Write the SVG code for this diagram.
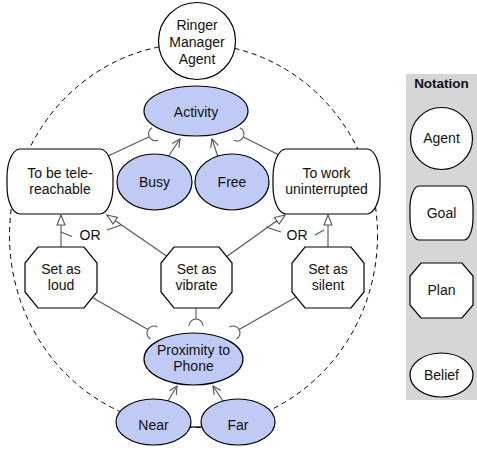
<svg xmlns="http://www.w3.org/2000/svg" width="477" height="456" viewBox="0 0 477 456">
<defs>
<style>
text{font-family:"Liberation Sans",Arial,sans-serif;font-size:14px;fill:#111;text-anchor:middle}
.n{stroke:#000;stroke-width:1.2;fill:#fff}
.b{stroke:#000;stroke-width:1.2;fill:#c0cbf5}
.c{stroke:#555;stroke-width:1.1;fill:none}
.bold{font-weight:bold;font-size:13.5px}
</style>
<marker id="v" markerUnits="userSpaceOnUse" markerWidth="12" markerHeight="12" refX="9" refY="5" orient="auto"><path d="M1,1 L9,5 L1,9" fill="none" stroke="#555" stroke-width="1.1"/></marker>
<marker id="t" markerUnits="userSpaceOnUse" markerWidth="14" markerHeight="12" refX="11" refY="5" orient="auto"><path d="M1,1 L11,5 L1,9 Z" fill="#fff" stroke="#555" stroke-width="1.1"/></marker>
</defs>
<rect x="406" y="74" width="71" height="326" fill="#d6d6d6"/>
<ellipse cx="193.5" cy="235.5" rx="184" ry="192" fill="none" stroke="#000" stroke-width="1" stroke-dasharray="5,4"/>
<g id="connectors">
<path class="c" d="M108,156 L148.7,137"/>
<path class="c" d="M158,140.3 A7,7 0 0 1 152,127.7"/>
<path class="c" d="M281,156 L243.3,137.1"/>
<path class="c" d="M233.9,140.3 A7,7 0 0 0 240.1,127.7"/>
<path class="c" d="M168,157 L180,139" marker-end="url(#v)"/>
<path class="c" d="M218,157 L212,139" marker-end="url(#v)"/>
<path class="c" d="M61,247 L61,215" marker-end="url(#t)"/>
<path class="c" d="M168,257 L107,215" marker-end="url(#t)"/>
<path class="c" d="M226,257 L285,215" marker-end="url(#t)"/>
<path class="c" d="M328,247 L328,215" marker-end="url(#t)"/>
<path class="c" d="M61,232 L72,236.5 M107,230 L121,225"/>
<path class="c" d="M266,227 L281,232 M315,235 L324,230"/>
<text x="90" y="240">OR</text>
<text x="297" y="240">OR</text>
<path class="c" d="M88,295 L147.9,329.5"/>
<path class="c" d="M157.5,326.9 A7,7 0 0 0 150.5,339.1"/>
<path class="c" d="M298,296 L239.1,329.5"/>
<path class="c" d="M229.5,326.9 A7,7 0 0 1 236.5,339.1"/>
<path class="c" d="M196,308 L196,319"/>
<path class="c" d="M189,326 A7,7 0 0 1 203,326"/>
<path class="c" d="M168,401 L177,386" marker-end="url(#v)"/>
<path class="c" d="M223,401 L213,386" marker-end="url(#v)"/>
<path d="M190,427 L201,427" stroke="#000" stroke-width="1.2"/>
</g>
<g id="agent">
<circle class="n" cx="197" cy="41" r="38.5"/>
<text x="197" y="29.5">Ringer</text>
<text x="197" y="46.5">Manager</text>
<text x="197" y="64">Agent</text>
</g>
<g id="activity">
<ellipse class="b" cx="196" cy="111" rx="52" ry="25"/>
<text x="196" y="116.5">Activity</text>
</g>
<g id="busy">
<ellipse class="b" cx="154.5" cy="182" rx="37.5" ry="28"/>
<text x="154.5" y="186.5">Busy</text>
</g>
<g id="free">
<ellipse class="b" cx="232" cy="182" rx="37" ry="28"/>
<text x="232" y="186.5">Free</text>
</g>
<g id="goal-tele">
<rect class="n" x="7" y="149" width="106" height="65" rx="13" ry="28"/>
<text x="60" y="177.5">To be tele-</text>
<text x="60" y="194">reachable</text>
</g>
<g id="goal-work">
<rect class="n" x="273" y="149" width="107" height="65" rx="13" ry="28"/>
<text x="326.5" y="177.5">To work</text>
<text x="326.5" y="194">uninterrupted</text>
</g>
<g id="plan-loud">
<polygon class="n" points="38,247 84,247 97,263 97,292 84,308 38,308 25,292 25,263"/>
<text x="61" y="273.5">Set as</text>
<text x="61" y="290">loud</text>
</g>
<g id="plan-vibrate">
<polygon class="n" points="174,247 219,247 232,263 232,292 219,308 174,308 161,292 161,263"/>
<text x="196.5" y="273.5">Set as</text>
<text x="196.5" y="290">vibrate</text>
</g>
<g id="plan-silent">
<polygon class="n" points="305,247 351,247 364,263 364,292 351,308 305,308 292,292 292,263"/>
<text x="328" y="273.5">Set as</text>
<text x="328" y="290">silent</text>
</g>
<g id="proximity">
<ellipse class="b" cx="193.5" cy="359" rx="49.5" ry="26"/>
<text x="193.5" y="354.5">Proximity to</text>
<text x="193.5" y="371">Phone</text>
</g>
<g id="near">
<ellipse class="b" cx="153.5" cy="422" rx="37.5" ry="23"/>
<text x="153.5" y="430">Near</text>
</g>
<g id="far">
<ellipse class="b" cx="238" cy="422" rx="37" ry="23"/>
<text x="238" y="430">Far</text>
</g>
<g id="notation">
<text class="bold" x="441.5" y="88">Notation</text>
<circle class="n" cx="441.5" cy="138.5" r="31"/>
<text x="441.5" y="143">Agent</text>
<rect class="n" x="410" y="186" width="63" height="54" rx="9" ry="22"/>
<text x="441.5" y="218">Goal</text>
<polygon class="n" points="421,263 462,263 473,276 473,305 462,318 421,318 410,305 410,276"/>
<text x="441.5" y="295">Plan</text>
<ellipse class="n" cx="441.5" cy="375" rx="31.5" ry="22"/>
<text x="441.5" y="380">Belief</text>
</g>
</svg>
